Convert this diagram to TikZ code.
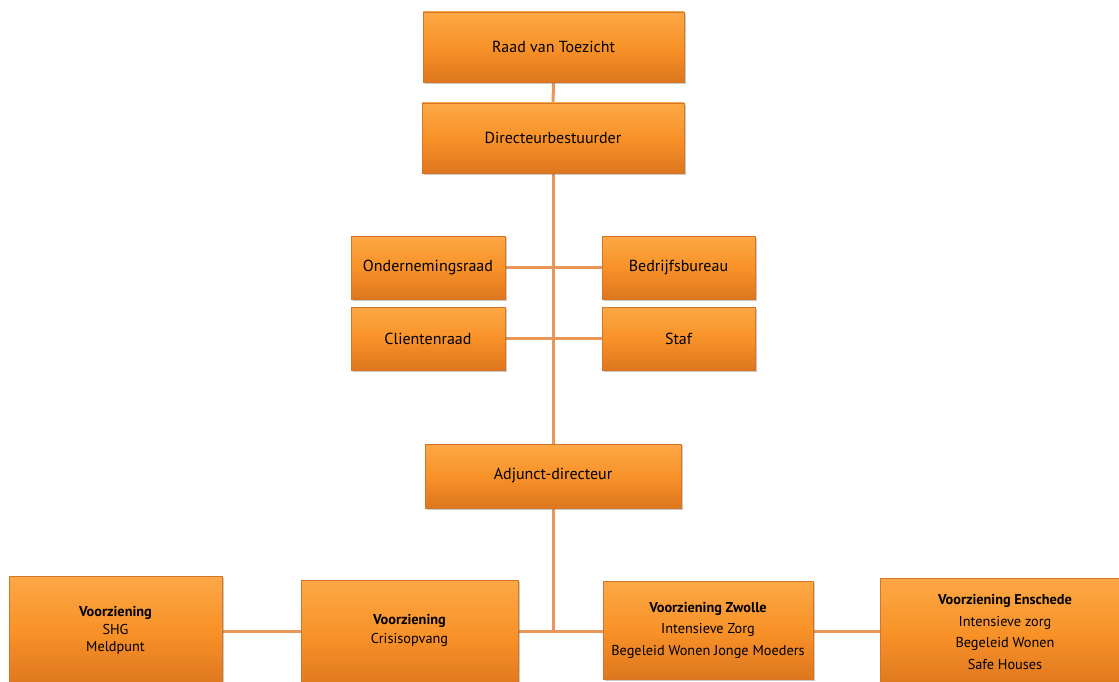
\documentclass[tikz,border=0pt]{standalone}
\usepackage{fontspec}
\setmainfont{PT Sans}
\usetikzlibrary{shadows,backgrounds}
\definecolor{boxtop}{RGB}{252,168,70}
\definecolor{boxmid}{RGB}{248,146,40}
\definecolor{boxbot}{RGB}{222,118,30}
\definecolor{boxline}{RGB}{214,116,40}
\definecolor{conn}{RGB}{232,150,90}
\tikzset{
  orgbox/.style={draw=boxline, line width=0.8pt, top color=boxtop, bottom color=boxbot, middle color=boxmid,
    drop shadow={shadow xshift=1.5pt, shadow yshift=-2pt, opacity=0.35, fill=black!60},
    inner sep=0pt, font=\fontsize{16}{19}\selectfont, text=black, align=center},
  boxtext/.style={font=\fontsize{14.3}{21.5}\selectfont, align=center, text=black},
  connector/.style={draw=conn, line width=3pt},
}
\begin{document}
\begin{tikzpicture}[x=1pt,y=-1pt]
\useasboundingbox (0,0) rectangle (1119,682);
\node[orgbox, minimum width=261pt, minimum height=70pt] (raad) at (553.5,47) {Raad van Toezicht};
\node[orgbox, minimum width=262pt, minimum height=70pt] (dir) at (553,138) {Directeurbestuurder};
\node[orgbox, minimum width=154pt, minimum height=63pt] (ond) at (428,267.5) {Ondernemingsraad};
\node[orgbox, minimum width=153pt, minimum height=63pt] (bed) at (678.5,267.5) {Bedrijfsbureau};
\node[orgbox, minimum width=154pt, minimum height=63pt] (cli) at (428,338.5) {Clientenraad};
\node[orgbox, minimum width=153pt, minimum height=63pt] (staf) at (678.5,338.5) {Staf};
\node[orgbox, minimum width=256pt, minimum height=64pt] (adj) at (553,476) {Adjunct-directeur};
\node[orgbox, minimum width=213pt, minimum height=110pt] (shg) at (115.5,631) {};
\node[orgbox, minimum width=217pt, minimum height=110pt] (cri) at (409.5,635) {};
\node[orgbox, minimum width=210pt, minimum height=98pt] (zw) at (708,630) {};
\node[orgbox, minimum width=250pt, minimum height=110pt] (ens) at (1005,633) {};
\node[boxtext, font=\fontsize{14.3}{16.5}\selectfont] (tshg) at (115.5,630) {\textbf{Voorziening}\\[2pt]SHG\\Meldpunt};
\node[boxtext, font=\fontsize{14.3}{19}\selectfont] (tcri) at (409.5,630) {\textbf{Voorziening}\\Crisisopvang};
\node[boxtext] (tzw) at (708,630) {\textbf{Voorziening Zwolle}\\Intensieve Zorg\\Begeleid Wonen Jonge Moeders};
\node[boxtext] (tens) at (1005,632) {\textbf{Voorziening Enschede}\\Intensieve zorg\\Begeleid Wonen\\Safe Houses};
\coordinate (j) at (553,631);
\begin{pgfonlayer}{background}
\draw[connector] (raad) -- (dir);
\draw[connector] (dir) -- (adj);
\draw[connector] (ond) -- (bed);
\draw[connector] (cli) -- (staf);
\draw[connector] (adj) -- (j);
\draw[connector] (shg.east |- j) -- (ens.west |- j);
\end{pgfonlayer}
\end{tikzpicture}
\end{document}
